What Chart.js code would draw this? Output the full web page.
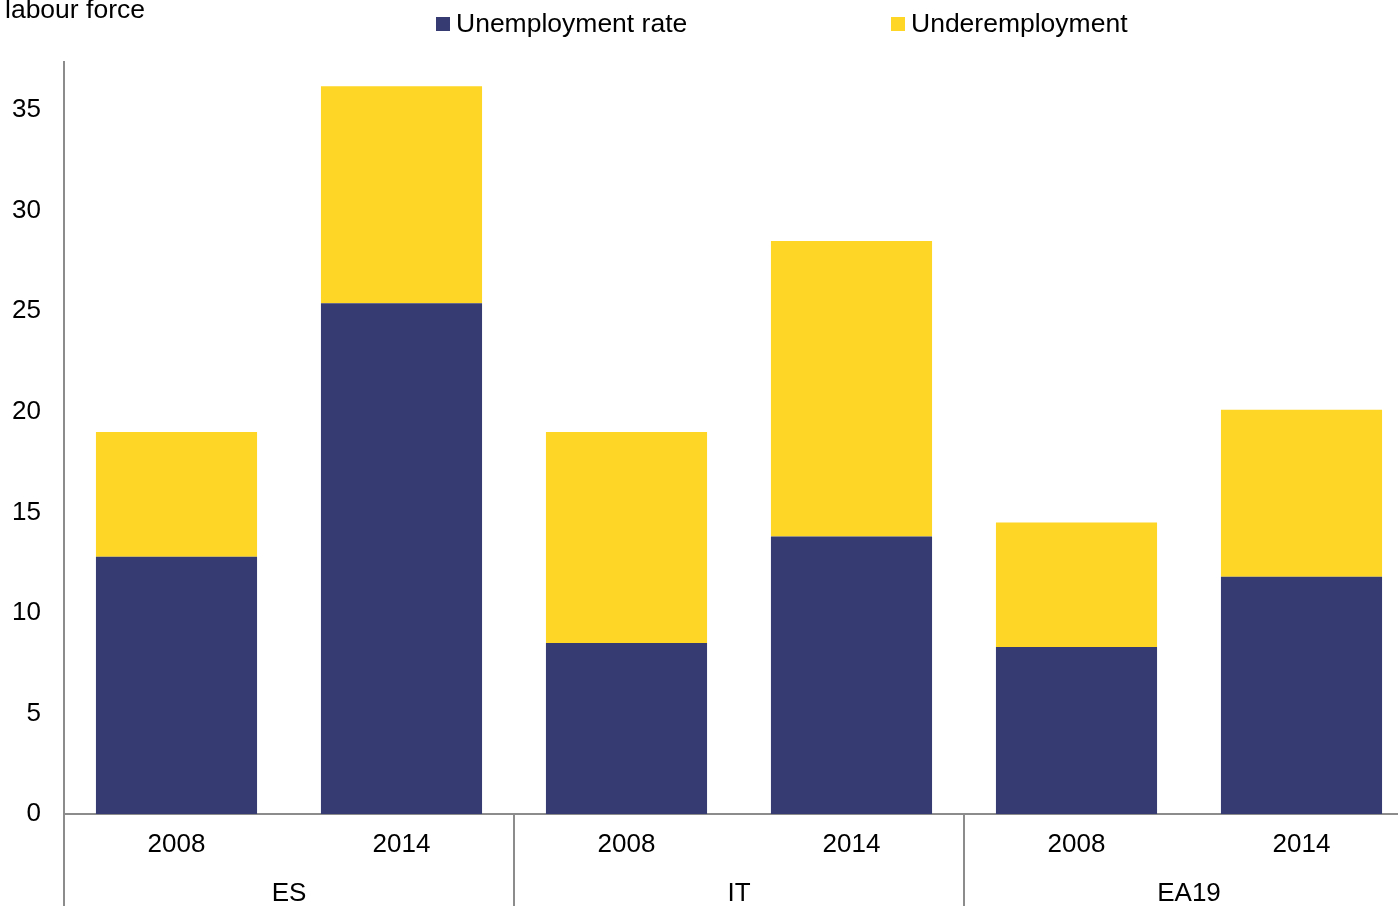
<!DOCTYPE html>
<html>
<head>
<meta charset="utf-8">
<script src="https://cdn.jsdelivr.net/npm/chart.js@4.4.1/dist/chart.umd.min.js"></script>
<style>
  html, body { margin: 0; padding: 0; background: #fff; overflow: hidden; }
  #wrap { width: 1414px; height: 906px; }
</style>
</head>
<body>
<div id="wrap"><canvas id="myChart" width="1414" height="906"></canvas></div>
<script>
// years shown under each bar, and the country each pair belongs to
var years = ['2008', '2014', '2008', '2014', '2008', '2014'];
var countries = ['ES', 'IT', 'EA19'];

// % of labour force
var unemployment = [12.8, 25.4, 8.5, 13.8, 8.3, 11.8];
var underemployment = [6.2, 10.8, 10.5, 14.7, 6.2, 8.3];

var yTicks = [0, 5, 10, 15, 20, 25, 30, 35];

var navy = '#363c72';
var yellow = '#fed625';
var axisGrey = '#8c8c8c';
var font = '"Liberation Sans", Arial, sans-serif';

// axis title, legend, country labels and separators
var extras = {
  id: 'extras',
  afterDraw: function(chart) {
    var c = chart.ctx;
    var area = chart.chartArea;
    var x = chart.scales.x;
    c.save();
    c.fillStyle = '#000';
    c.font = '26.5px ' + font;
    c.textBaseline = 'alphabetic';
    c.textAlign = 'left';
    c.fillText('labour force', 5, 18);

    // legend
    c.textBaseline = 'middle';
    c.fillStyle = navy;
    c.fillRect(436, 17, 14, 14);
    c.fillStyle = '#000';
    c.fillText('Unemployment rate', 456, 25);
    c.fillStyle = yellow;
    c.fillRect(891, 17, 14, 14);
    c.fillStyle = '#000';
    c.fillText('Underemployment', 911, 25);

    // country groups
    c.font = '26px ' + font;
    c.strokeStyle = axisGrey;
    c.lineWidth = 2;
    var step = (area.right - area.left) / years.length;
    for (var i = 0; i < countries.length; i++) {
      var left = area.left + i * 2 * step;
      if (i > 0) {
        c.beginPath();
        c.moveTo(left, area.bottom);
        c.lineTo(left, chart.height);
        c.stroke();
      }
      c.textAlign = 'center';
      c.fillText(countries[i], (x.getPixelForValue(i * 2) + x.getPixelForValue(i * 2 + 1)) / 2, 894);
    }
    // y axis runs down through the label area
    c.beginPath();
    c.moveTo(area.left, area.bottom);
    c.lineTo(area.left, chart.height);
    c.stroke();
    c.restore();
  }
};

var ctx = document.getElementById('myChart');
var myChart = new Chart(ctx, {
  type: 'bar',
  data: {
    labels: years,
    datasets: [
      {
        label: 'Unemployment rate',
        data: unemployment,
        backgroundColor: navy,
        barPercentage: 0.716,
        categoryPercentage: 1
      },
      {
        label: 'Underemployment',
        data: underemployment,
        backgroundColor: yellow,
        barPercentage: 0.716,
        categoryPercentage: 1
      }
    ]
  },
  options: {
    responsive: false,
    animation: false,
    layout: { padding: { top: 62, right: 0, left: 0, bottom: 0 } },
    plugins: {
      legend: { display: false },
      tooltip: { enabled: false }
    },
    scales: {
      x: {
        stacked: true,
        grid: { display: false, drawTicks: false },
        border: { color: axisGrey, width: 2 },
        ticks: {
          color: '#000',
          font: { family: font, size: 26 },
          padding: 15,
          maxRotation: 0
        },
        afterFit: function(scale) { scale.height = 92; }
      },
      y: {
        stacked: true,
        min: 0,
        max: 37.4,
        grid: { display: false, drawTicks: false },
        border: { color: axisGrey, width: 2 },
        afterBuildTicks: function(scale) {
          scale.ticks = yTicks.map(function(v) { return { value: v }; });
        },
        ticks: {
          color: '#000',
          font: { family: font, size: 26 },
          padding: 23
        },
        afterFit: function(scale) { scale.width = 64; }
      }
    }
  },
  plugins: [extras]
});
</script>
</body>
</html>
